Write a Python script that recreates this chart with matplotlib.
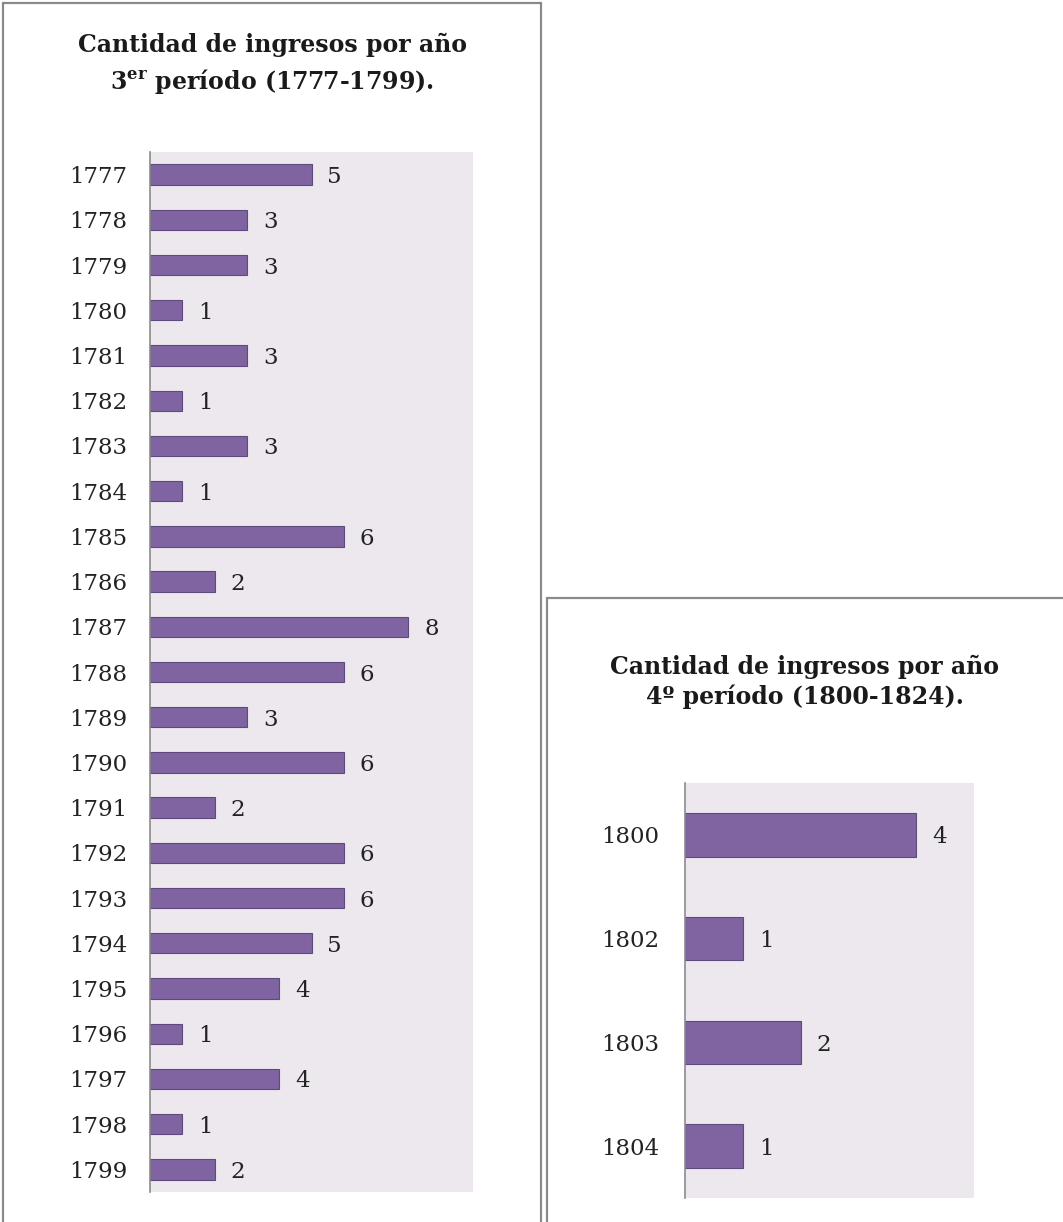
import matplotlib
matplotlib.use("Agg")
import matplotlib.pyplot as plt
from matplotlib.patches import Rectangle

# ---- data ----
years_3 = [str(y) for y in range(1777, 1800)]
counts_3 = [5, 3, 3, 1, 3, 1, 3, 1, 6, 2, 8, 6, 3, 6, 2, 6, 6, 5, 4, 1, 4, 1, 2]
years_4 = ["1800", "1802", "1803", "1804"]
counts_4 = [4, 1, 2, 1]
title_3 = "Cantidad de ingresos por año\n3$^{\\mathbf{er}}$ período (1777-1799)."
title_4 = "Cantidad de ingresos por año\n4º período (1800-1824)."

W, H = 1063, 1222
BAR = "#8064A2"
EDGE = "#5E4A7C"
BG = "#ECE8EE"
SERIF = ["DejaVu Serif"]
plt.rcParams["mathtext.fontset"] = "dejavuserif"

fig = plt.figure(figsize=(W / 100, H / 100), dpi=100)
fig.patch.set_facecolor("white")

def px_rect(x0, y0, x1, y1):
    return [x0 / W, 1 - y1 / H, (x1 - x0) / W, (y1 - y0) / H]

# panel borders
fig.patches.append(Rectangle((3 / W, -0.01), (541 - 3) / W, 1 - 3 / H + 0.01,
                             transform=fig.transFigure, fill=False,
                             edgecolor="#8a8a8a", linewidth=1.6))
fig.patches.append(Rectangle((547 / W, -0.01), (1070 - 547) / W, 1 - 598 / H + 0.01,
                             transform=fig.transFigure, fill=False,
                             edgecolor="#8a8a8a", linewidth=1.6))


def panel(rect, cats, vals, xmax, height, label_pad):
    ax = fig.add_axes(rect)
    ax.set_facecolor(BG)
    pos = list(range(len(cats)))
    bars = ax.barh(pos, vals, height=height, color=BAR, edgecolor=EDGE, linewidth=0.8)
    ax.set_ylim(len(cats) - 0.5, -0.5)
    ax.set_xlim(0, xmax)
    ax.set_yticks(pos)
    ax.set_yticklabels(cats, fontfamily=SERIF, fontsize=16.5, color="#222222")
    ax.tick_params(axis="y", length=0, pad=label_pad)
    ax.set_xticks([])
    for s in ["top", "right", "bottom"]:
        ax.spines[s].set_visible(False)
    ax.spines["left"].set_color("#8c8c8c")
    ax.spines["left"].set_linewidth(1.2)
    texts = ax.bar_label(bars, labels=[str(v) for v in vals], padding=11.5,
                         fontfamily=SERIF, fontsize=16.5, color="#222222")
    for t in texts:
        t.set_va("center_baseline")
    return ax

panel(px_rect(150, 152, 473, 1192), years_3, counts_3, 10, 0.45, 16.5)
panel(px_rect(685, 783, 974, 1198), years_4, counts_4, 5, 0.42, 18.5)

fig.text(272 / W, 1 - 64 / H, title_3, ha="center", va="center",
         fontfamily=SERIF, fontweight="bold", fontsize=17, linespacing=1.45,
         color="#1a1a1a")
fig.text(805 / W, 1 - 682 / H, title_4, ha="center", va="center",
         fontfamily=SERIF, fontweight="bold", fontsize=17, linespacing=1.3,
         color="#1a1a1a")

fig.savefig("out.png", dpi=100, facecolor="white")
